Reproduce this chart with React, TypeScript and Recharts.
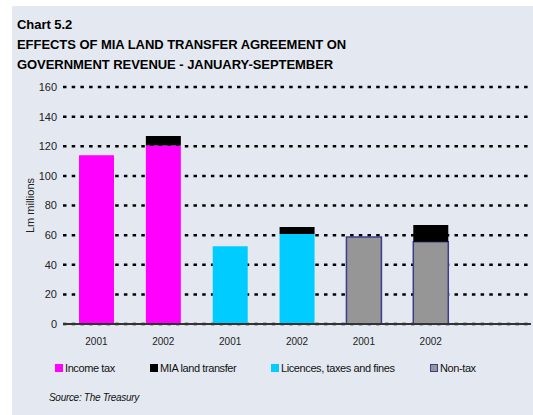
import { BarChart, Bar, XAxis, YAxis, CartesianGrid } from "recharts";

// Govt revenue Jan-Sep, Lm millions. Last category is an empty slot.
const years = ["2001", "2002", "2001", "2002", "2001", "2002", ""];
const incomeTax = [114, 120.5, 0, 0, 0, 0, 0];
const licences = [0, 0, 52.5, 60.8, 0, 0, 0];
const nonTax = [0, 0, 0, 0, 58.8, 55.6, 0];
const miaTransfer = [0, 6.5, 0, 4.7, 0, 11.3, 0];
const yTicks = [0, 20, 40, 60, 80, 100, 120, 140, 160];

const COLORS = {
  income: "#FF00FF",
  mia: "#000000",
  licences: "#00CCFF",
  nonTax: "#969696",
  nonTaxEdge: "#3C3C8C",
  panel: "#E4E9F1",
};

const legendItems = [
  { name: "Income tax", color: COLORS.income, left: 55 },
  { name: "MIA land transfer", color: COLORS.mia, left: 150 },
  { name: "Licences, taxes and fines", color: COLORS.licences, left: 271 },
  { name: "Non-tax", color: COLORS.nonTax, edge: COLORS.nonTaxEdge, left: 430 },
];

const data = years.map((y, i) => ({
  key: `c${i}`,
  year: y,
  income: incomeTax[i],
  licences: licences[i],
  nonTax: nonTax[i],
  mia: miaTransfer[i],
}));

const font = "'Liberation Sans', Arial, sans-serif";

export default function App() {
  return (
    <div
      style={{
        position: "absolute",
        left: 0,
        top: 0,
        width: 533,
        height: 415,
        background: "#fff",
        fontFamily: font,
        overflow: "hidden",
      }}
    >
      <div
        style={{
          position: "absolute",
          left: 12,
          top: 6,
          width: 521,
          height: 409,
          background: COLORS.panel,
        }}
      />
      <div
        style={{
          position: "absolute",
          left: 17,
          top: 15,
          fontWeight: "bold",
          fontSize: 13,
          lineHeight: "20px",
          letterSpacing: -0.05,
          color: "#000",
        }}
      >
        <div>Chart 5.2</div>
        <div>EFFECTS OF MIA LAND TRANSFER AGREEMENT ON</div>
        <div>GOVERNMENT REVENUE - JANUARY-SEPTEMBER</div>
      </div>

      <div style={{ position: "absolute", left: 0, top: 0 }}>
        <BarChart
          width={533}
          height={415}
          data={data}
          margin={{ top: 87, right: 2, left: 0, bottom: 71 }}
          barSize={35}
        >
          <CartesianGrid
            horizontal
            vertical={false}
            stroke="#000"
            strokeWidth={2.5}
            strokeDasharray="3.5 5.2"
          />
          <XAxis
            dataKey="key"
            tickFormatter={(_v, i) => years[i]}
            height={20}
            tickLine={false}
            tickSize={0}
            tickMargin={14}
            axisLine={{ stroke: "#333", strokeWidth: 2 }}
            tick={{ fontSize: 10, fill: "#222", fontFamily: font }}
            interval={0}
          />
          <YAxis
            width={63}
            domain={[0, 160]}
            ticks={yTicks}
            tickLine={false}
            tickSize={0}
            tickMargin={6}
            axisLine={false}
            tick={{ fontSize: 11, fill: "#222", fontFamily: font }}
            label={{
              value: "Lm millions",
              angle: -90,
              position: "insideLeft",
              offset: 30,
              style: { fontSize: 11, fill: "#222", fontFamily: font, textAnchor: "middle" },
            }}
          />
          <Bar dataKey="income" stackId="a" fill={COLORS.income} isAnimationActive={false} />
          <Bar dataKey="licences" stackId="a" fill={COLORS.licences} isAnimationActive={false} />
          <Bar
            dataKey="nonTax"
            stackId="a"
            fill={COLORS.nonTax}
            stroke={COLORS.nonTaxEdge}
            strokeWidth={1.5}
            isAnimationActive={false}
          />
          <Bar dataKey="mia" stackId="a" fill={COLORS.mia} isAnimationActive={false} />
        </BarChart>
      </div>

      {legendItems.map((d) => (
        <div
          key={d.name}
          style={{
            position: "absolute",
            left: d.left,
            top: 362,
            display: "flex",
            alignItems: "center",
            fontSize: 11,
            letterSpacing: -0.4,
            color: "#111",
          }}
        >
          <span
            style={{
              width: d.edge ? 6 : 8,
              height: d.edge ? 6 : 8,
              background: d.color,
              border: d.edge ? `1px solid ${d.edge}` : "none",
              marginRight: 2,
              display: "inline-block",
            }}
          />
          <span>{d.name}</span>
        </div>
      ))}

      <div
        style={{
          position: "absolute",
          left: 49,
          top: 392,
          fontSize: 10,
          fontStyle: "italic",
          letterSpacing: -0.3,
          color: "#111",
        }}
      >
        Source: The Treasury
      </div>
    </div>
  );
}
